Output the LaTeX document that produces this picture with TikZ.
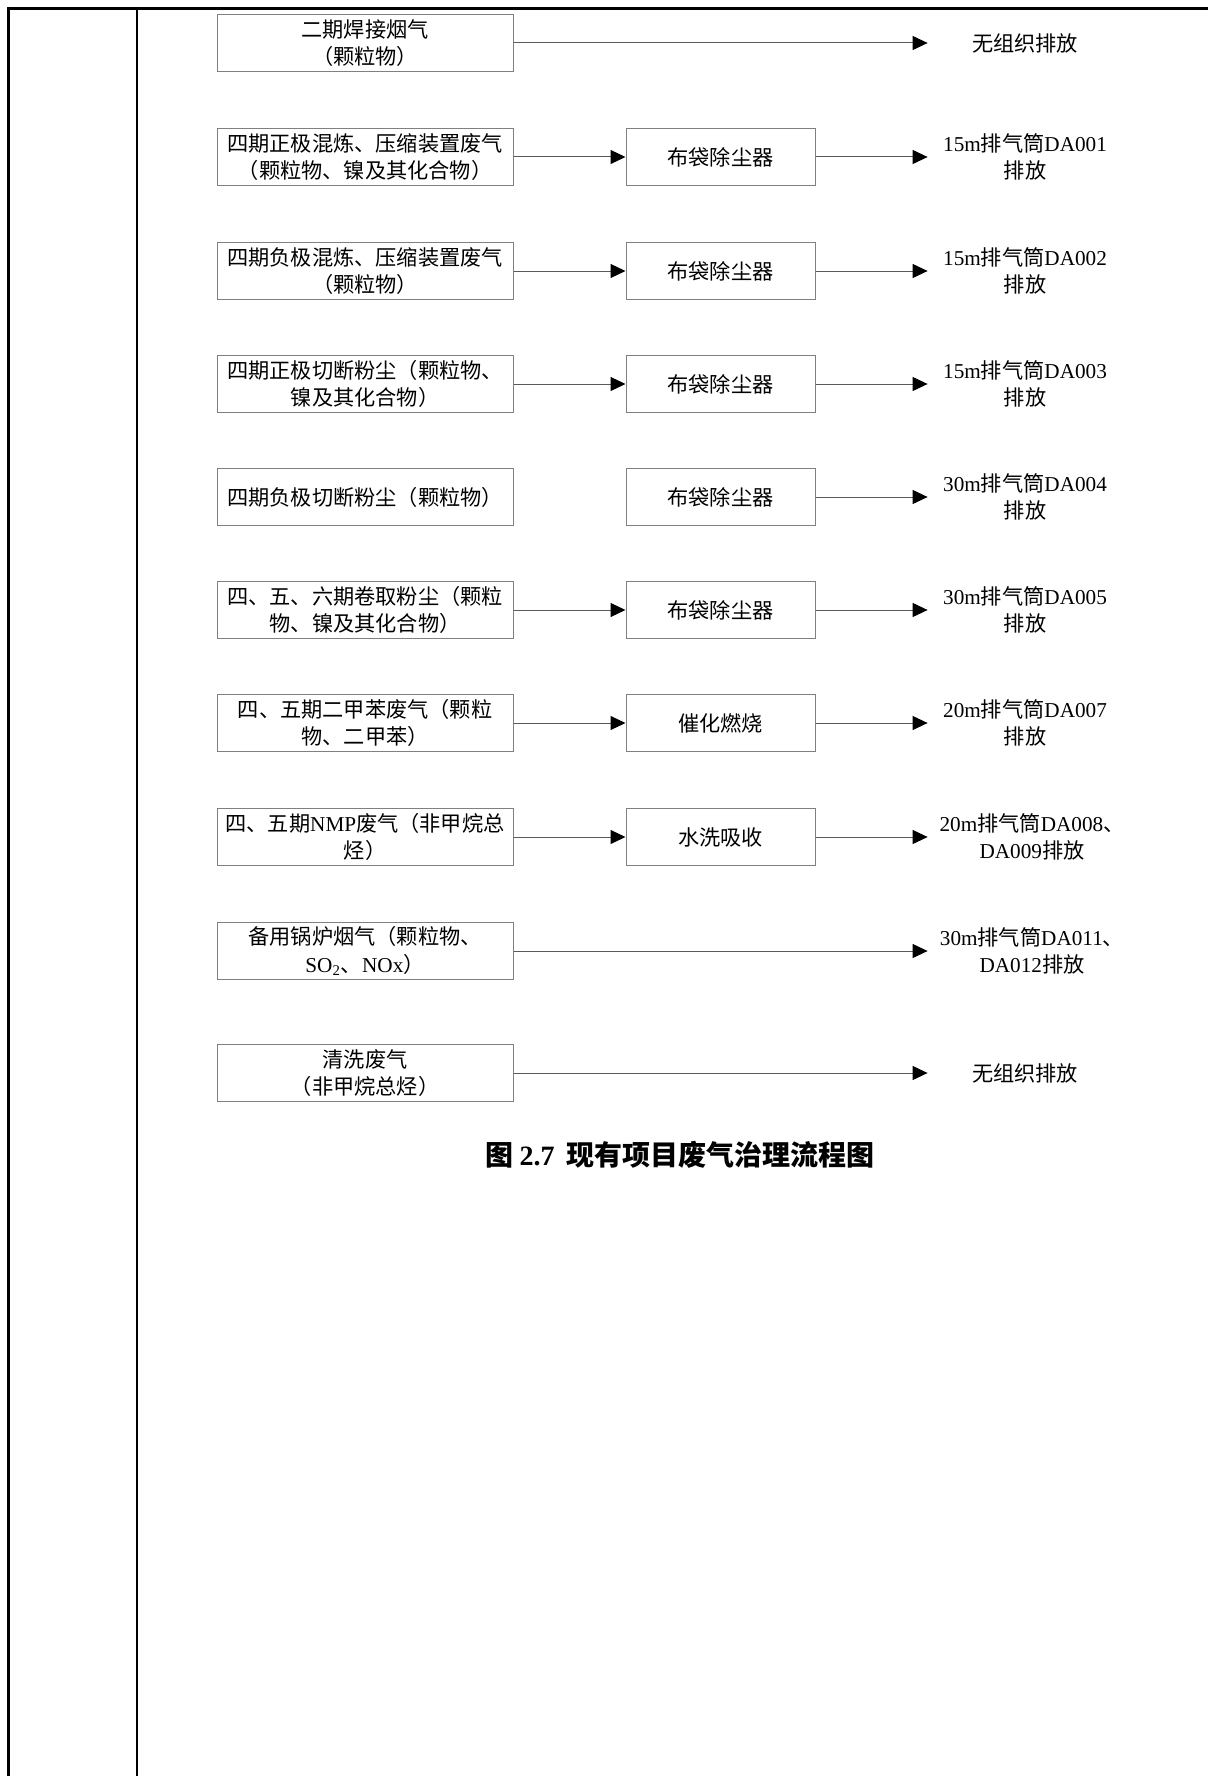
\documentclass[tikz,border=0pt]{standalone}
\usepackage{fontspec}
\setmainfont{Noto Sans CJK SC}
\newfontfamily\lat{Liberation Serif}
\usetikzlibrary{arrows.meta}
\definecolor{boxgray}{RGB}{128,128,128}
\definecolor{linegray}{RGB}{90,90,90}
\newcommand\nodefont{\fontsize{10.6pt}{13.6pt}\selectfont}
\begin{document}
\begin{tikzpicture}[x=0.5pt,y=-0.5pt,
  srcbox/.style={draw=boxgray, line width=0.5pt, minimum width=148pt, minimum height=28.5pt, inner sep=0pt, align=center, font=\nodefont},
  midbox/.style={draw=boxgray, line width=0.5pt, minimum width=94.5pt, minimum height=28.5pt, inner sep=0pt, align=center, font=\nodefont},
  outtext/.style={minimum width=97pt, inner sep=0pt, align=center, font=\nodefont},
  widetext/.style={outtext, minimum width=104pt},
  conn/.style={draw=linegray, line width=0.5pt, -{Triangle[length=7.5pt,width=7pt,fill=black,color=black]}},
  frame/.style={draw=black}]
\useasboundingbox (0,0) rectangle (1208,1776);
\fill[white] (0,0) rectangle (1208,1776);
% table frame
\draw[frame, line width=1.5pt] (8,1776) -- (8,9) -- (1208,9);
\draw[frame, line width=1pt] (137,9) -- (137,1776);

% row 1
\node[srcbox] (s1) at (365,43) {二期焊接烟气\\（颗粒物）};
\node[outtext] (o1) at (1025,43) {无组织排放};
\draw[conn] (s1) -- (o1);

% row 2
\node[srcbox] (s2) at (365,157) {四期正极混炼、压缩装置废气\\（颗粒物、镍及其化合物）};
\node[midbox] (m2) at (720.5,157) {布袋除尘器};
\node[outtext] (o2) at (1025,157) {{\lat 15m}排气筒{\lat DA001}\\排放};
\draw[conn] (s2) -- (m2);
\draw[conn] (m2) -- (o2);

% row 3
\node[srcbox] (s3) at (365,271) {四期负极混炼、压缩装置废气\\（颗粒物）};
\node[midbox] (m3) at (720.5,271) {布袋除尘器};
\node[outtext] (o3) at (1025,271) {{\lat 15m}排气筒{\lat DA002}\\排放};
\draw[conn] (s3) -- (m3);
\draw[conn] (m3) -- (o3);

% row 4
\node[srcbox] (s4) at (365,384) {四期正极切断粉尘（颗粒物、\\镍及其化合物）};
\node[midbox] (m4) at (720.5,384) {布袋除尘器};
\node[outtext] (o4) at (1025,384) {{\lat 15m}排气筒{\lat DA003}\\排放};
\draw[conn] (s4) -- (m4);
\draw[conn] (m4) -- (o4);

% row 5 (no arrow between source and filter)
\node[srcbox] (s5) at (365,497) {四期负极切断粉尘（颗粒物）};
\node[midbox] (m5) at (720.5,497) {布袋除尘器};
\node[outtext] (o5) at (1025,497) {{\lat 30m}排气筒{\lat DA004}\\排放};
\draw[conn] (m5) -- (o5);

% row 6
\node[srcbox] (s6) at (365,610) {四、五、六期卷取粉尘（颗粒\\物、镍及其化合物）};
\node[midbox] (m6) at (720.5,610) {布袋除尘器};
\node[outtext] (o6) at (1025,610) {{\lat 30m}排气筒{\lat DA005}\\排放};
\draw[conn] (s6) -- (m6);
\draw[conn] (m6) -- (o6);

% row 7
\node[srcbox] (s7) at (365,723) {四、五期二甲苯废气（颗粒\\物、二甲苯）};
\node[midbox] (m7) at (720.5,723) {催化燃烧};
\node[outtext] (o7) at (1025,723) {{\lat 20m}排气筒{\lat DA007}\\排放};
\draw[conn] (s7) -- (m7);
\draw[conn] (m7) -- (o7);

% row 8
\node[srcbox] (s8) at (365,837) {四、五期{\lat NMP}废气（非甲烷总\\烃）};
\node[midbox] (m8) at (720.5,837) {水洗吸收};
\node[widetext] (o8) at (1032,837) {{\lat 20m}排气筒{\lat DA008}、\\{\lat DA009}排放};
\draw[conn] (s8) -- (m8);
\draw[conn] (m8) -- (o8);

% row 9
\node[srcbox] (s9) at (365,951) {备用锅炉烟气（颗粒物、\\{\lat SO\textsubscript{2}}、{\lat NOx}）};
\node[widetext] (o9) at (1032,951) {{\lat 30m}排气筒{\lat DA011}、\\{\lat DA012}排放};
\draw[conn] (s9) -- (o9);

% row 10
\node[srcbox] (s10) at (365,1073) {清洗废气\\（非甲烷总烃）};
\node[outtext] (o10) at (1025,1073) {无组织排放};
\draw[conn] (s10) -- (o10);

% caption
\node[font=\fontsize{14pt}{16pt}\selectfont\bfseries] (cap) at (680,1155) {图 {\lat\bfseries 2.7}\hspace{6pt}现有项目废气治理流程图};
\end{tikzpicture}
\end{document}
